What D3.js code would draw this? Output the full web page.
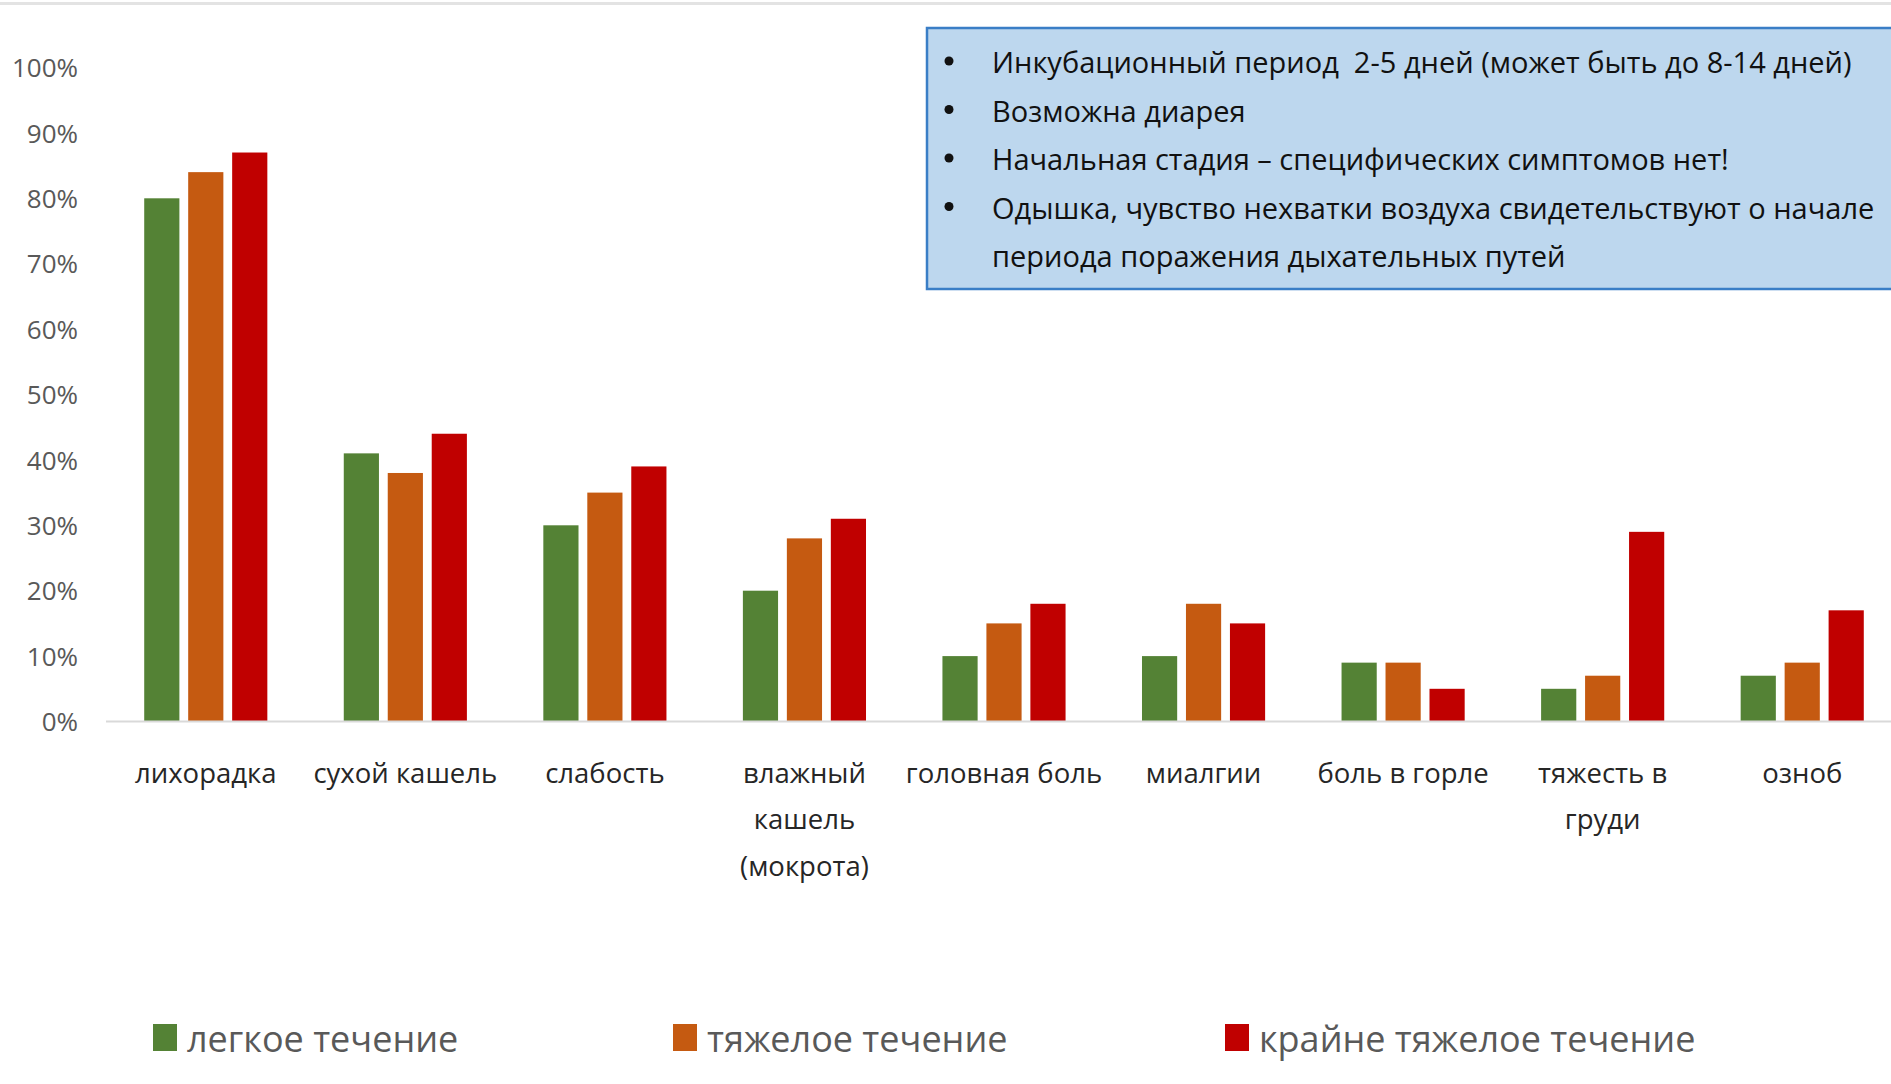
<!DOCTYPE html>
<html>
<head>
<meta charset="utf-8">
<script src="https://cdn.jsdelivr.net/npm/d3@7"></script>
<style>
  html, body { margin: 0; padding: 0; background: #fff; overflow: hidden; }
  svg { display: block; }
  .pre { white-space: pre; }
</style>
</head>
<body>
<svg id="chart" width="1891" height="1084"></svg>
<script>
// ---- Data ----
const categories = [
  "лихорадка",
  "сухой кашель",
  "слабость",
  "влажный\nкашель\n(мокрота)",
  "головная боль",
  "миалгии",
  "боль в горле",
  "тяжесть в\nгруди",
  "озноб"
];
const seriesNames = ["легкое течение", "тяжелое течение", "крайне тяжелое течение"];
const mildValues    = [80, 41, 30, 20, 10, 10, 9, 5, 7];
const severeValues  = [84, 38, 35, 28, 15, 18, 9, 7, 9];
const criticalValues= [87, 44, 39, 31, 18, 15, 5, 29, 17];
const yTicks = [0, 10, 20, 30, 40, 50, 60, 70, 80, 90, 100];
const noteLines = [
  { bullet: true,  text: "Инкубационный период  2-5 дней (может быть до 8-14 дней)" },
  { bullet: true,  text: "Возможна диарея" },
  { bullet: true,  text: "Начальная стадия – специфических симптомов нет!" },
  { bullet: true,  text: "Одышка, чувство нехватки воздуха свидетельствуют о начале" },
  { bullet: false, text: "периода поражения дыхательных путей" }
];

const colors = ["#548235", "#C55A11", "#C00000"];
const seriesValues = [mildValues, severeValues, criticalValues];

const svg = d3.select("#chart");

// top thin grey line
svg.append("rect").attr("x", 0).attr("y", 2).attr("width", 1891).attr("height", 3).attr("fill", "#e3e3e3");

// ---- Scales ----
const x0 = d3.scaleBand().domain(categories).range([106, 1902]).paddingInner(0.383).paddingOuter(0.1915);
const x1 = d3.scaleBand().domain(seriesNames).range([0, x0.bandwidth()]).paddingInner(0.2).paddingOuter(0);
const y = d3.scaleLinear().domain([0, 100]).range([721.5, 67.5]);
const color = d3.scaleOrdinal().domain(seriesNames).range(colors);

// ---- Y axis ----
const yAxis = svg.append("g")
  .attr("transform", "translate(84,0)")
  .call(d3.axisLeft(y).tickValues(yTicks).tickFormat(d => d + "%").tickSize(0).tickPadding(6));
yAxis.select(".domain").remove();
yAxis.selectAll("text")
  .attr("font-family", "'Open Sans', sans-serif")
  .attr("font-size", 26)
  .attr("fill", "#595959")
  .attr("dy", "0.35em");

// ---- Bars ----
const rows = categories.map((c, i) => ({ cat: c, vals: seriesNames.map((s, j) => ({ s, v: seriesValues[j][i] })) }));
const groups = svg.append("g").selectAll("g").data(rows).join("g")
  .attr("transform", d => `translate(${x0(d.cat)},0)`);
groups.selectAll("rect").data(d => d.vals).join("rect")
  .attr("x", d => x1(d.s))
  .attr("width", x1.bandwidth())
  .attr("y", d => y(d.v))
  .attr("height", d => y(0) - y(d.v))
  .attr("fill", d => color(d.s));

// ---- X axis ----
const xAxis = svg.append("g")
  .attr("transform", `translate(0,${y(0)})`)
  .call(d3.axisBottom(x0).tickSize(0).tickPadding(0));
xAxis.select(".domain").attr("stroke", "#d9d9d9").attr("stroke-width", 2).attr("d", "M106,0H1891");
xAxis.selectAll(".tick text").each(function(d) {
  const t = d3.select(this);
  const lines = d.split("\n");
  t.text(null)
    .attr("font-family", "'Open Sans', sans-serif")
    .attr("font-size", 27.5)
    .attr("fill", "#262626")
    .attr("y", 0).attr("dy", null);
  lines.forEach((ln, k) => {
    t.append("tspan").attr("x", 0).attr("y", 61 + k * 46.5).text(ln);
  });
});

// ---- Note box ----
const note = svg.append("g");
note.append("rect")
  .attr("x", 927).attr("y", 28).attr("width", 1000).attr("height", 261)
  .attr("fill", "#BDD7EE").attr("stroke", "#3A7EC6").attr("stroke-width", 2.5);
noteLines.forEach((ln, i) => {
  const by = 73 + i * 48.5;
  if (ln.bullet) {
    note.append("circle").attr("cx", 949).attr("cy", by - 12).attr("r", 4.5).attr("fill", "#111");
  }
  note.append("text").attr("class", "pre").attr("x", 992).attr("y", by)
    .attr("font-family", "'Open Sans', sans-serif").attr("font-size", 29).attr("fill", "#111")
    .text(ln.text);
});

// ---- Legend ----
const legendX = [153, 673, 1225];
const legend = svg.append("g").selectAll("g").data(seriesNames).join("g")
  .attr("transform", (d, i) => `translate(${legendX[i]},1024)`);
legend.append("rect").attr("width", 24).attr("height", 27).attr("fill", d => color(d));
legend.append("text").attr("x", 34).attr("y", 28)
  .attr("font-family", "'Open Sans', sans-serif").attr("font-size", 36).attr("fill", "#595959")
  .text(d => d);
</script>
</body>
</html>
